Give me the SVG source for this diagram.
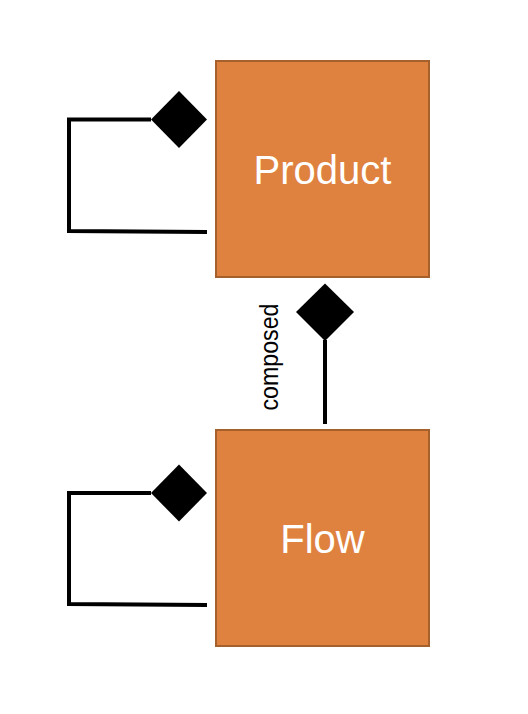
<svg xmlns="http://www.w3.org/2000/svg" width="528" height="714" viewBox="0 0 528 714">
<style>
.box{fill:#E0823F;stroke:#A5602C;stroke-width:2}
.lbl{font-family:"Liberation Sans",Arial,sans-serif;font-size:40px;fill:#ffffff;text-anchor:middle}
.ln{fill:none;stroke:#000;stroke-width:4}
.dia{fill:#000}
.cap{font-family:"Liberation Sans",Arial,sans-serif;font-size:26px;fill:#000;text-anchor:middle}
</style>
<rect width="528" height="714" fill="#fff"/>
<g id="connectors">
<g id="product-self">
<polyline class="ln" points="151,119.5 69,119.5 69,231 207,232"/>
<polygon class="dia" points="151,119.5 179,91 207,119.5 179,148"/>
</g>
<g id="flow-self">
<polyline class="ln" points="151,493 69,493 69,604 207,605"/>
<polygon class="dia" points="151,493 179,464.5 207,493 179,521.5"/>
</g>
<g id="flow-product">
<line class="ln" x1="325" y1="340" x2="325" y2="424" stroke-width="5"/>
<polygon class="dia" points="296,312 325,283.5 354,312 325,341"/>
<text class="cap" transform="translate(278,357) rotate(-90)" textLength="107" lengthAdjust="spacingAndGlyphs">composed</text>
</g>
</g>
<g id="product">
<rect class="box" x="216" y="61" width="213" height="216"/>
<text class="lbl" x="322.5" y="184">Product</text>
</g>
<g id="flow">
<rect class="box" x="216" y="430" width="213" height="216"/>
<text class="lbl" x="322.5" y="553">Flow</text>
</g>
</svg>
